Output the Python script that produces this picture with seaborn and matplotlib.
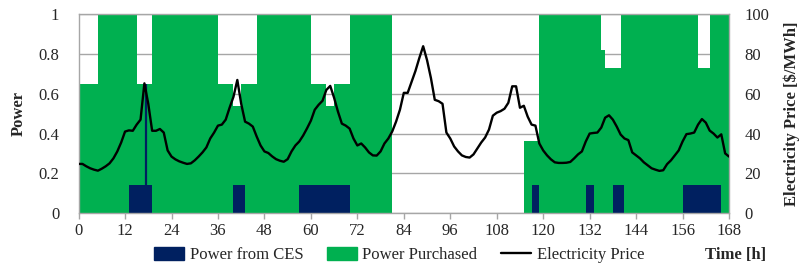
import numpy as np
import pandas as pd
import matplotlib
matplotlib.use("Agg")
import matplotlib.pyplot as plt
import seaborn as sns
from matplotlib.patches import Patch
from matplotlib.lines import Line2D

# hourly data, one row per half day
hours = list(range(168))

# top of the stacked column (CES + purchased)
power_total = [
    0.65, 0.65, 0.65, 0.65, 0.65, 1, 1, 1, 1, 1, 1, 1,
    1, 1, 1, 0.65, 0.65, 0.65, 0.65, 1, 1, 1, 1, 1,
    1, 1, 1, 1, 1, 1, 1, 1, 1, 1, 1, 1,
    0.65, 0.65, 0.65, 0.65, 0.54, 0.54, 0.65, 0.65, 0.65, 0.65, 1, 1,
    1, 1, 1, 1, 1, 1, 1, 1, 1, 1, 1, 1,
    0.65, 0.65, 0.65, 0.65, 0.54, 0.54, 0.65, 0.65, 0.65, 0.65, 1, 1,
    1, 1, 1, 1, 1, 1, 1, 1, 1, 0, 0, 0,
    0, 0, 0, 0, 0, 0, 0, 0, 0, 0, 0, 0,
    0, 0, 0, 0, 0, 0, 0, 0, 0, 0, 0, 0,
    0, 0, 0, 0, 0, 0, 0, 0.36, 0.36, 0.36, 0.36, 1,
    1, 1, 1, 1, 1, 1, 1, 1, 1, 1, 1, 1,
    1, 1, 1, 0.82, 0.73, 0.73, 0.73, 0.73, 1, 1, 1, 1,
    1, 1, 1, 1, 1, 1, 1, 1, 1, 1, 1, 1,
    1, 1, 1, 1, 0.73, 0.73, 0.73, 1, 1, 1, 1, 1,
]

ces_power = [
    0, 0, 0, 0, 0, 0, 0, 0, 0, 0, 0, 0,
    0, 0.14, 0.14, 0.14, 0.14, 0.14, 0.14, 0, 0, 0, 0, 0,
    0, 0, 0, 0, 0, 0, 0, 0, 0, 0, 0, 0,
    0, 0, 0, 0, 0.14, 0.14, 0.14, 0, 0, 0, 0, 0,
    0, 0, 0, 0, 0, 0, 0, 0, 0, 0.14, 0.14, 0.14,
    0.14, 0.14, 0.14, 0.14, 0.14, 0.14, 0.14, 0.14, 0.14, 0.14, 0, 0,
    0, 0, 0, 0, 0, 0, 0, 0, 0, 0, 0, 0,
    0, 0, 0, 0, 0, 0, 0, 0, 0, 0, 0, 0,
    0, 0, 0, 0, 0, 0, 0, 0, 0, 0, 0, 0,
    0, 0, 0, 0, 0, 0, 0, 0, 0, 0.14, 0.14, 0,
    0, 0, 0, 0, 0, 0, 0, 0, 0, 0, 0, 0.14,
    0.14, 0, 0, 0, 0, 0, 0.14, 0.14, 0.14, 0, 0, 0,
    0, 0, 0, 0, 0, 0, 0, 0, 0, 0, 0, 0,
    0.14, 0.14, 0.14, 0.14, 0.14, 0.14, 0.14, 0.14, 0.14, 0.14, 0, 0,
]

# thin CES spike seen at the first price peak
ces_spike_hour = [17.3]
ces_spike_top = [0.65]

price_hours = list(range(169))
price = [
    24.7, 24.7, 23.5, 22.5, 21.8, 21.3, 22.3, 23.5, 25.0, 27.5, 31.0, 35.5,
    41.0, 41.6, 41.4, 44.5, 47.0, 65.3, 55.0, 41.4, 41.4, 42.3, 40.5, 31.5,
    28.4, 27.0, 26.0, 25.3, 24.7, 25.0, 26.5, 28.4, 30.5, 33.0, 37.5, 40.5,
    44.0, 44.5, 47.0, 53.0, 58.5, 67.0, 55.0, 46.0, 45.0, 43.5, 38.5, 34.0,
    31.0, 30.2, 28.5, 27.1, 26.3, 25.8, 27.1, 31.0, 34.0, 36.0, 39.0, 42.6,
    46.5, 52.0, 54.5, 56.5, 62.0, 64.0, 58.0, 51.0, 45.0, 44.0, 42.5, 37.5,
    34.0, 35.0, 33.0, 30.5, 29.0, 28.9, 31.0, 35.0, 37.5, 41.0, 46.0, 52.0,
    60.5, 60.5, 66.0, 71.5, 78.0, 84.0, 77.0, 68.0, 57.0, 56.3, 55.0, 40.5,
    37.5, 33.5, 31.0, 29.0, 28.2, 27.9, 29.5, 32.5, 35.5, 38.0, 42.0, 49.0,
    50.5, 51.3, 52.5, 55.5, 63.8, 63.8, 53.0, 54.0, 48.5, 44.5, 44.0, 35.0,
    31.5, 29.0, 27.0, 25.5, 25.2, 25.2, 25.3, 25.7, 27.5, 29.5, 31.0, 36.0,
    40.0, 40.3, 40.5, 43.0, 48.0, 49.2, 47.0, 43.5, 39.5, 37.5, 36.7, 30.5,
    29.0, 27.5, 25.5, 24.0, 22.5, 21.8, 21.2, 21.5, 24.6, 26.5, 29.0, 31.5,
    36.0, 39.7, 40.0, 40.5, 44.5, 47.3, 45.5, 41.5, 40.0, 38.0, 39.6, 30.0,
    28.4,
]

x_ticks = list(range(0, 169, 12))
power_ticks = [0, 0.2, 0.4, 0.6, 0.8, 1]
price_ticks = [0, 20, 40, 60, 80, 100]

NAVY = "#002060"
GREEN = "#00B050"
GRID = "#A6A6A6"
FS = 12

sns.set_style("white")
plt.rcParams["font.family"] = ["Liberation Serif", "DejaVu Serif"]

bars = pd.DataFrame({"hour": hours, "total": power_total, "ces": ces_power})
# columns cover [h, h+1]
bars["mid"] = bars["hour"] + 0.5
prices = pd.DataFrame({"hour": price_hours, "price": price})

fig = plt.figure(figsize=(8.06, 2.78), dpi=100)
ax = fig.add_axes([0.0975, 0.234, 0.807, 0.714])

sns.barplot(data=bars, x="mid", y="total", native_scale=True, width=1,
            color=GREEN, saturation=1, linewidth=0, antialiased=False, ax=ax)
sns.barplot(data=bars, x="mid", y="ces", native_scale=True, width=1,
            color=NAVY, saturation=1, linewidth=0, antialiased=False, ax=ax)
ax.vlines(ces_spike_hour, [0.14], ces_spike_top, color=NAVY, lw=1.6, zorder=3)

ax.set_xlim(0, 168)
ax.set_ylim(0, 1)
ax.set_xticks(x_ticks)
ax.set_xticklabels([str(t) for t in x_ticks])
ax.set_yticks(power_ticks)
ax.set_yticklabels(["0", "0.2", "0.4", "0.6", "0.8", "1"])
ax.set_axisbelow(True)
ax.yaxis.grid(True, color=GRID, lw=1)
ax.xaxis.grid(False)
ax.tick_params(axis="x", length=4, width=1, color=GRID, labelsize=FS, pad=3,
               direction="out", bottom=True)
ax.tick_params(axis="y", length=0, labelsize=FS, pad=14)
for s in ax.spines.values():
    s.set_color(GRID)
    s.set_linewidth(1)
ax.set_xlabel("")
ax.set_ylabel("Power", fontsize=FS, fontweight="bold", labelpad=8)

ax2 = ax.twinx()
sns.lineplot(data=prices, x="hour", y="price", color="black", lw=1.7, ax=ax2)
ax2.set_ylim(0, 100)
ax2.set_yticks(price_ticks)
ax2.tick_params(axis="y", length=0, labelsize=FS, pad=11)
for s in ax2.spines.values():
    s.set_visible(False)
ax2.set_ylabel("Electricity Price [$/MWh]", fontsize=FS, fontweight="bold",
               labelpad=10)
ax2.set_xlim(0, 168)

handles = [
    Patch(facecolor=NAVY, edgecolor=NAVY),
    Patch(facecolor=GREEN, edgecolor=GREEN),
    Line2D([0], [0], color="black", lw=1.7),
]
labels = ["Power from CES", "Power Purchased", "Electricity Price"]
fig.legend(handles, labels, loc="center", bbox_to_anchor=(0.495, 0.083),
           ncol=3, frameon=False, fontsize=FS, handlelength=1.8,
           handleheight=0.8, columnspacing=1.4, handletextpad=0.35)
fig.text(0.913, 0.083, "Time [h]", ha="center", va="center", fontsize=FS,
         fontweight="bold")

fig.savefig("out.png", dpi=100)
